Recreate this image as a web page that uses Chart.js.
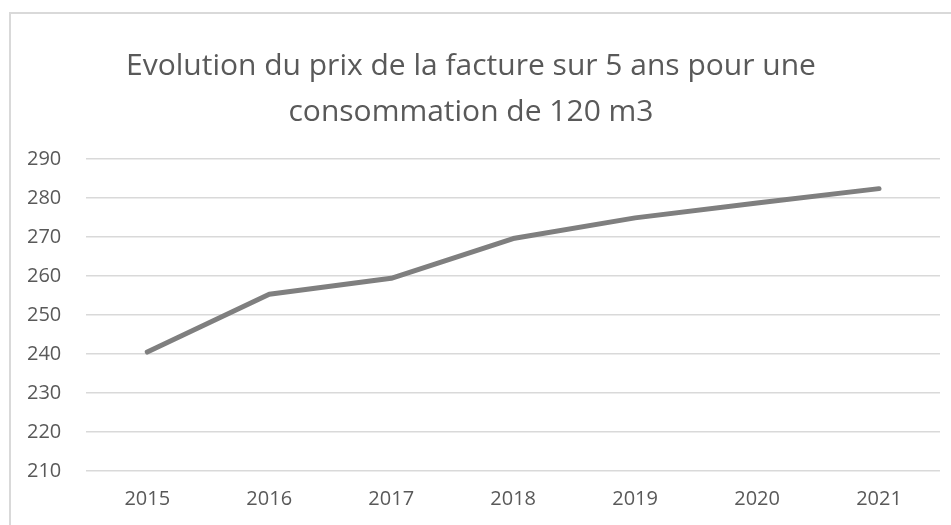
<!DOCTYPE html>
<html>
<head>
<meta charset="utf-8">
<script src="https://cdn.jsdelivr.net/npm/chart.js@4"></script>
<style>
  body { margin: 0; background: #fff; }
  #frame {
    position: absolute; left: 9px; top: 12px; width: 1000px; height: 600px;
    border-left: 2px solid #d9d9d9; border-top: 2px solid #d9d9d9;
  }
  #plot { position: absolute; left: 0; top: 0; }
</style>
</head>
<body>
<div id="frame"></div>
<canvas id="plot" width="951" height="525"></canvas>
<script>
var years = ['2015', '2016', '2017', '2018', '2019', '2020', '2021'];
var prix = [240.5, 255.3, 259.4, 269.6, 274.9, 278.7, 282.4];
var titre = ['Evolution du prix de la facture sur 5 ans pour une', 'consommation de 120 m3'];

var ctx = document.getElementById('plot').getContext('2d');

new Chart(ctx, {
  type: 'line',
  data: {
    labels: years,
    datasets: [{
      label: 'Prix',
      data: prix,
      borderColor: '#7f7f7f',
      borderWidth: 5,
      borderCapStyle: 'round',
      borderJoinStyle: 'round',
      pointRadius: 0,
      tension: 0,
      fill: false
    }]
  },
  options: {
    responsive: false,
    animation: false,
    layout: { padding: { left: 2, right: 11, top: 20, bottom: 6 } },
    plugins: {
      legend: { display: false },
      tooltip: { enabled: false },
      title: {
        display: true,
        text: titre,
        color: '#595959',
        font: { family: 'Open Sans', size: 30, weight: 'normal', lineHeight: 1.55 },
        padding: { top: 23, bottom: 23 }
      }
    },
    scales: {
      x: {
        offset: true,
        grid: { display: false },
        border: { display: false },
        ticks: { color: '#595959', font: { family: 'Open Sans', size: 20 }, padding: 8 }
      },
      y: {
        min: 210,
        max: 290,
        grid: { color: '#d9d9d9', lineWidth: 1.5, drawTicks: false },
        border: { display: false },
        ticks: { stepSize: 10, color: '#595959', font: { family: 'Open Sans', size: 20 }, padding: 25 }
      }
    }
  }
});
</script>
</body>
</html>
